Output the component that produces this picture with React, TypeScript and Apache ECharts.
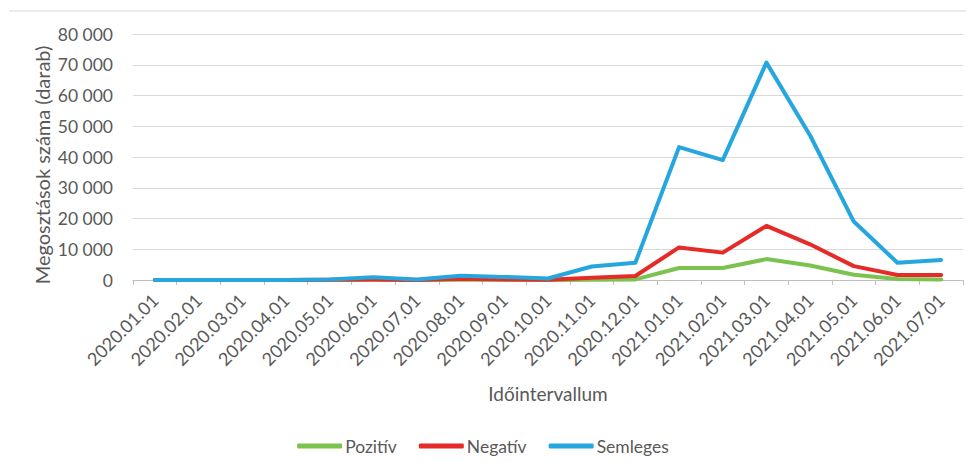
import React, { useEffect, useRef } from "react";
import * as echarts from "echarts";

const categories = [
  "2020.01.01", "2020.02.01", "2020.03.01", "2020.04.01", "2020.05.01",
  "2020.06.01", "2020.07.01", "2020.08.01", "2020.09.01", "2020.10.01",
  "2020.11.01", "2020.12.01", "2021.01.01", "2021.02.01", "2021.03.01",
  "2021.04.01", "2021.05.01", "2021.06.01", "2021.07.01",
];
const pozitiv = [0, 0, 0, 0, 0, 50, 0, 100, 50, 0, 100, 200, 3900, 3900, 6800, 4700, 1700, 300, 200];
const negativ = [0, 0, 0, 0, 50, 150, 0, 400, 200, 100, 700, 1300, 10600, 8900, 17600, 11600, 4500, 1600, 1600];
const semleges = [0, 0, 0, 0, 200, 900, 200, 1400, 1000, 500, 4400, 5600, 43200, 39000, 70700, 47000, 19000, 5600, 6500];
const yTicks = { min: 0, max: 80000, interval: 10000 };
const yTitle = "Megosztások száma (darab)";

const FONT = "Lato, 'Open Sans', sans-serif";
const TEXT = "#595959";

function fmt(v: number): string {
  const s = String(Math.round(v));
  return s.replace(/\B(?=(\d{3})+(?!\d))/g, " ");
}

export default function App() {
  const ref = useRef<HTMLDivElement>(null);
  useEffect(() => {
    if (!ref.current) return;
    const chart = echarts.init(ref.current, null, { renderer: "svg" });
    const mk = (name: string, data: number[], color: string) => ({
      name,
      type: "line" as const,
      data,
      showSymbol: false,
      symbol: "none",
      lineStyle: { width: 4, color, cap: "round", join: "round" },
      itemStyle: { color },
    });
    chart.setOption({
      animation: false,
      backgroundColor: "#ffffff",
      textStyle: { fontFamily: FONT },
      graphic: [
        {
          type: "line",
          shape: { x1: 9, y1: 11, x2: 966, y2: 11 },
          style: { stroke: "#e6e6e6", lineWidth: 1.5 },
        },
        {
          type: "text",
          x: 42,
          y: 165,
          rotation: Math.PI / 2,
          style: {
            text: yTitle,
            fill: TEXT,
            fontSize: 20,
            fontFamily: FONT,
            align: "center",
            verticalAlign: "middle",
          },
        },
      ],
      grid: { left: 133, right: 3, top: 34, bottom: 182, containLabel: false },
      legend: {
        top: 435,
        left: "center",
        padding: [2, 5, 2, 5],
        icon: "roundRect",
        itemWidth: 45,
        itemHeight: 5,
        itemGap: 22,
        textStyle: { color: TEXT, fontSize: 17.5, fontFamily: FONT, padding: [0, 0, 0, -2] },
        data: ["Pozitív", "Negatív", "Semleges"],
      },
      xAxis: {
        type: "category",
        data: categories,
        boundaryGap: true,
        name: "Időintervallum",
        nameLocation: "middle",
        nameGap: 104,
        nameTextStyle: { color: TEXT, fontSize: 19, fontFamily: FONT },
        axisLine: { lineStyle: { color: "#bfbfbf", width: 1 } },
        axisTick: { show: true, alignWithLabel: false, length: 5, lineStyle: { color: "#bfbfbf" } },
        axisLabel: {
          rotate: 45,
          interval: 0,
          color: TEXT,
          fontSize: 18,
          fontFamily: FONT,
          margin: 17,
        },
      },
      yAxis: {
        type: "value",
        min: yTicks.min,
        max: yTicks.max,
        interval: yTicks.interval,
        axisLine: { show: false },
        axisTick: { show: false },
        splitLine: { lineStyle: { color: "#d9d9d9", width: 1 } },
        axisLabel: {
          color: TEXT,
          fontSize: 17.5,
          fontFamily: FONT,
          margin: 20,
          formatter: (v: number) => fmt(v),
        },
      },
      series: [
        mk("Pozitív", pozitiv, "#7cc24e"),
        mk("Negatív", negativ, "#e52a27"),
        mk("Semleges", semleges, "#25a6de"),
      ],
    });
    return () => chart.dispose();
  }, []);
  return <div ref={ref} style={{ width: 966, height: 462, position: "absolute", left: 0, top: 0 }} />;
}
